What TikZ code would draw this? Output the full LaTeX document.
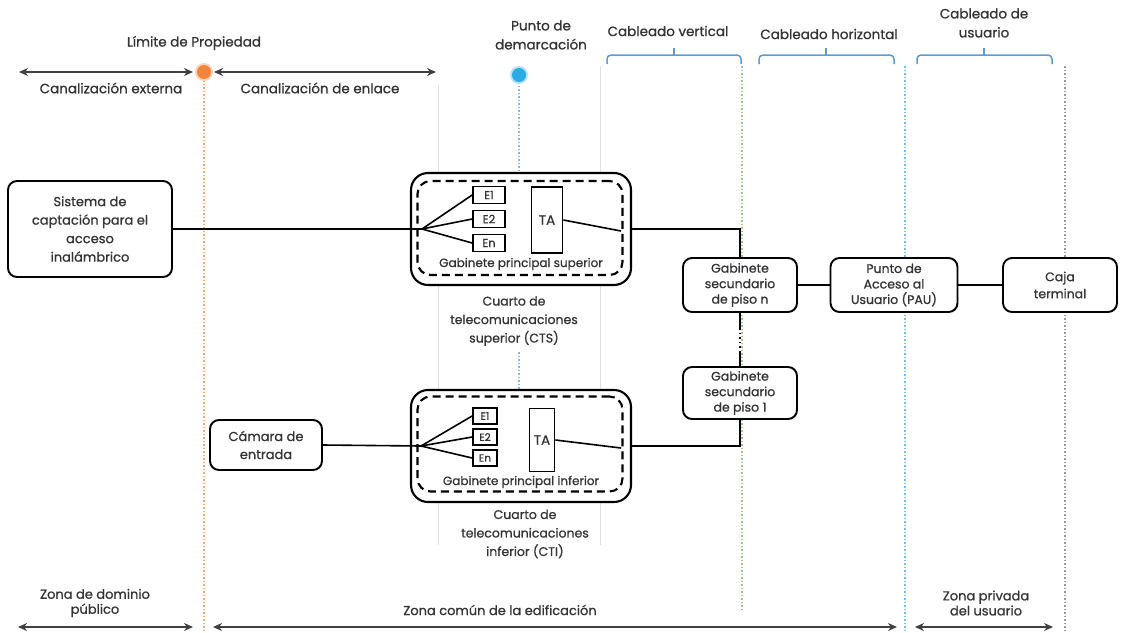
\documentclass[tikz,border=0pt]{standalone}
\usepackage{fontspec}
\setmainfont{Poppins}[UprightFeatures={FakeBold=0.8}]
\usetikzlibrary{arrows.meta}
\definecolor{txt}{HTML}{333333}
\definecolor{dotorange}{HTML}{F2853E}
\definecolor{lineorange}{HTML}{F4A77A}
\definecolor{dotblue}{HTML}{2AABE2}
\definecolor{lineblue}{HTML}{7DB9E8}
\definecolor{linegreen}{HTML}{9CCB86}
\definecolor{linegray}{HTML}{9A9A9A}
\definecolor{brkblue}{HTML}{5B9BD5}
\begin{document}
\begin{tikzpicture}[x=1pt,y=-1pt,
  every node/.style={text=txt},
  lbl/.style={font=\fontsize{13.5}{19}\selectfont, align=center, inner sep=0pt},
  box/.style={draw=black, line width=1.9pt, rounded corners=9pt, fill=white, align=center, inner sep=0pt, font=\fontsize{12.5}{15.5}\selectfont},
  bigbox/.style={draw=black, line width=2.1pt, rounded corners=17pt, fill=white, inner sep=0pt},
  dashbox/.style={draw=black, line width=2.1pt, dash pattern=on 8pt off 5pt, rounded corners=13pt, inner sep=0pt},
  ebox/.style={draw=black, line width=1.7pt, fill=white, inner sep=0pt, font=\fontsize{11.5}{12}\selectfont},
  conn/.style={draw=black, line width=1.6pt},
  zone/.style={line width=1.8pt, draw=black!75, {Stealth[length=9pt,width=8pt]}-{Stealth[length=9pt,width=8pt]}},
  vdot/.style={line width=1.5pt, dash pattern=on 1.5pt off 2pt},
  faint/.style={line width=0.8pt, draw=black!12},
  brk/.style={draw=brkblue, line width=1.5pt, rounded corners=4pt}
]
\useasboundingbox (0,0) rectangle (1123,632);

% ---------- background guide lines ----------
\coordinate (fA1) at (438,85);  \coordinate (fA2) at (438,545);
\coordinate (fB1) at (600,66);  \coordinate (fB2) at (600,545);
\draw[faint] (fA1) -- (fA2);
\draw[faint] (fB1) -- (fB2);
\coordinate (oT) at (204,80);  \coordinate (oB) at (204,632);
\draw[vdot, draw=lineorange] (oT) -- (oB);
\coordinate (b1T) at (519,82); \coordinate (b1B) at (519,173);
\coordinate (b2T) at (519,352); \coordinate (b2B) at (519,390);
\draw[vdot, draw=lineblue] (b1T) -- (b1B);
\draw[vdot, draw=lineblue] (b2T) -- (b2B);
\coordinate (gT) at (742,66); \coordinate (gB) at (742,612);
\draw[vdot, draw=linegreen] (gT) -- (gB);
\coordinate (hT) at (905,66); \coordinate (hB) at (905,632);
\draw[vdot, draw=lineblue] (hT) -- (hB);
\coordinate (uT) at (1065,66); \coordinate (uB) at (1065,632);
\draw[vdot, draw=linegray] (uT) -- (uB);

% ---------- top labels ----------
\node[lbl] (limite) at (194,43) {Límite de Propiedad};
\fill[dotorange!35] (204,72) circle (9pt);
\node[circle, fill=dotorange, minimum size=14pt, inner sep=0pt] (lp) at (204,72) {};
\fill[dotblue!35] (519,75) circle (9pt);
\node[circle, fill=dotblue, minimum size=14pt, inner sep=0pt] (pd) at (519,75) {};
\node[lbl] (punto) at (541,35) {Punto de\\demarcación};

\coordinate (a1L) at (19,72);  \coordinate (a1R) at (193,72);
\coordinate (a2L) at (214,72); \coordinate (a2R) at (436,72);
\draw[zone] (a1L) -- (a1R);
\draw[zone] (a2L) -- (a2R);
\node[lbl] (cext) at (111,88) {Canalización externa};
\node[lbl] (cenl) at (320,88) {Canalización de enlace};

\node[lbl] (cv) at (668,31) {Cableado vertical};
\node[lbl] (ch) at (829,34) {Cableado horizontal};
\node[lbl] (cu) at (984,23) {Cableado de\\usuario};
\foreach \a/\c/\b in {607/674/741, 759/826/894, 917/984/1052}{
  \draw[brk] (\a,64) -- (\a,55) -- (\b,55) -- (\b,64);
  \draw[draw=brkblue, line width=1.5pt] (\c,55) -- (\c,48);
}

% ---------- left boxes ----------
\node[box, minimum width=164pt, minimum height=96pt, font=\fontsize{13}{18.5}\selectfont] (sis) at (90,229) {Sistema de\\captación para el\\acceso\\inalámbrico};
\node[box, minimum width=112pt, minimum height=50pt, font=\fontsize{13}{18}\selectfont] (cam) at (266,445) {Cámara de\\entrada};

% ---------- CTS ----------
\node[bigbox, minimum width=220pt, minimum height=112pt] (CTS) at (521,229) {};
\node[dashbox, minimum width=205pt, minimum height=94pt] (CTSi) at (520,228) {};
\node[ebox, minimum width=32pt, minimum height=17pt] (E1s) at (489,195) {E1};
\node[ebox, minimum width=32pt, minimum height=17pt] (E2s) at (489,219) {E2};
\node[ebox, minimum width=32pt, minimum height=17pt] (Ens) at (489,243) {En};
\node[ebox, minimum width=31pt, minimum height=66pt, font=\fontsize{13.5}{14}\selectfont] (TAs) at (547,220) {TA};
\node[lbl, font=\fontsize{12}{13}\selectfont] (gps) at (521,264) {Gabinete principal superior};
\node[lbl, font=\fontsize{12.5}{18.5}\selectfont] (ctsl) at (514,321) {Cuarto de\\telecomunicaciones\\superior (CTS)};
\coordinate (fanS) at (422,229);
\coordinate (taS) at (621,231);

% ---------- CTI ----------
\node[bigbox, minimum width=220pt, minimum height=112pt] (CTI) at (521,446) {};
\node[dashbox, minimum width=205pt, minimum height=95pt] (CTIi) at (520,444) {};
\node[ebox, minimum width=24pt, minimum height=16pt, font=\fontsize{10.5}{11}\selectfont] (E1i) at (485,416) {E1};
\node[ebox, minimum width=24pt, minimum height=16pt, font=\fontsize{10.5}{11}\selectfont] (E2i) at (485,437) {E2};
\node[ebox, minimum width=24pt, minimum height=16pt, font=\fontsize{10.5}{11}\selectfont] (Eni) at (485,458) {En};
\node[ebox, minimum width=25pt, minimum height=63pt, font=\fontsize{13.5}{14}\selectfont] (TAi) at (542,440) {TA};
\node[lbl, font=\fontsize{12}{13}\selectfont] (gpi) at (521,482) {Gabinete principal inferior};
\node[lbl, font=\fontsize{12.5}{18.5}\selectfont] (ctil) at (525,534) {Cuarto de\\telecomunicaciones\\inferior (CTI)};
\coordinate (fanI) at (421,446);
\coordinate (taI) at (621,448);

% ---------- right boxes ----------
\node[box, minimum width=114pt, minimum height=54pt] (gabn) at (740,285) {Gabinete\\secundario\\de piso n};
\node[box, minimum width=127pt, minimum height=54pt] (pau) at (894,285) {Punto de\\Acceso al\\Usuario (PAU)};
\node[box, minimum width=114pt, minimum height=54pt, font=\fontsize{12.5}{17}\selectfont] (caja) at (1060,285) {Caja\\terminal};
\node[box, minimum width=114pt, minimum height=52pt] (gab1) at (740,393) {Gabinete\\secundario\\de piso 1};

% ---------- connectors ----------
\draw[conn] (sis.east) -- (fanS);
\foreach \e in {E1s,E2s,Ens} \draw[conn] (fanS) -- (\e.west);
\draw[conn] (TAs.east) -- (taS);
\draw[conn] (CTS.east) -| (gabn.north);
\draw[conn] (gabn.east) -- (pau.west);
\draw[conn] (pau.east) -- (caja.west);
\coordinate (dA) at (740,328);
\coordinate (dB) at (740,351);
\draw[conn] (gabn.south) -- (dA);
\draw[line width=1.6pt, dash pattern=on 1.5pt off 3pt] (dA) -- (dB);
\draw[conn] (dB) -- (gab1.north);
\draw[conn] (gab1.south) |- (CTI.east);
\draw[conn] (cam.east) -- (fanI);
\foreach \e in {E1i,E2i,Eni} \draw[conn] (fanI) -- (\e.west);
\draw[conn] (TAi.east) -- (taI);

% ---------- bottom zones ----------
\node[lbl, font=\fontsize{13}{15}\selectfont] (zdp) at (95,603) {Zona de dominio\\público};
\node[lbl, font=\fontsize{13}{15}\selectfont] (zce) at (500,610) {Zona común de la edificación};
\node[lbl, font=\fontsize{13}{15}\selectfont] (zpu) at (986,603) {Zona privada\\del usuario};
\coordinate (z1L) at (18,627);  \coordinate (z1R) at (193,627);
\coordinate (z2L) at (213,627); \coordinate (z2R) at (897,627);
\coordinate (z3L) at (915,627); \coordinate (z3R) at (1053,627);
\draw[zone] (z1L) -- (z1R);
\draw[zone] (z2L) -- (z2R);
\draw[zone] (z3L) -- (z3R);
\end{tikzpicture}
\end{document}
